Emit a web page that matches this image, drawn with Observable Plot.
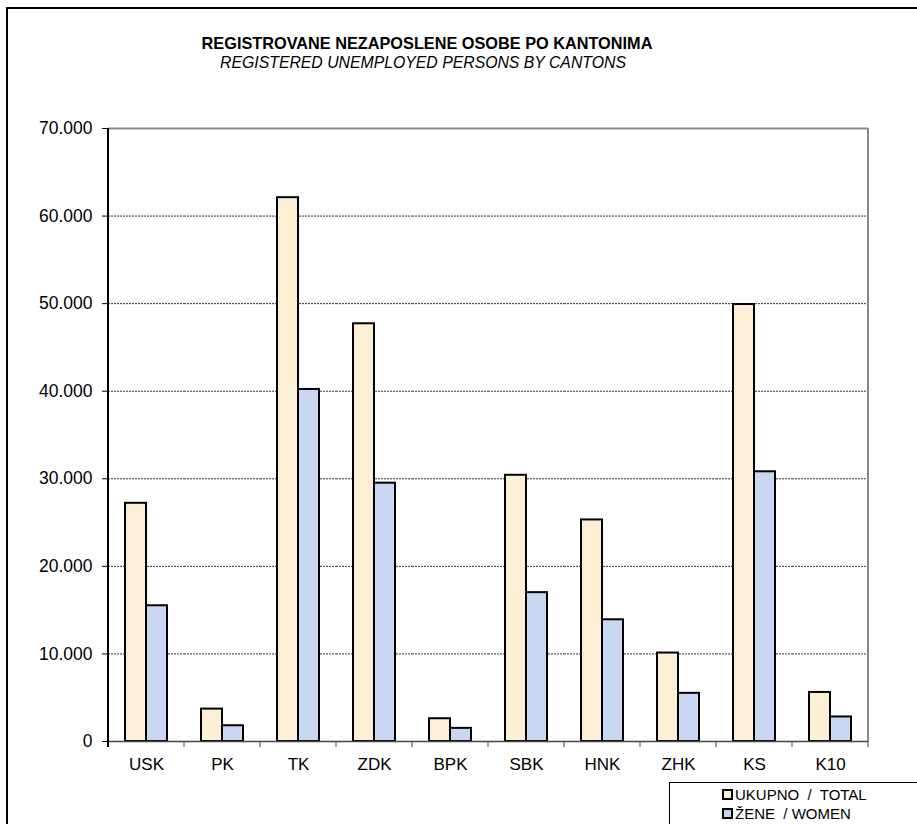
<!DOCTYPE html>
<html>
<head>
<meta charset="utf-8">
<script src="https://cdn.jsdelivr.net/npm/d3@7"></script>
<script src="https://cdn.jsdelivr.net/npm/@observablehq/plot@0.6"></script>
<style>
  html, body { margin: 0; padding: 0; background: #fff; }
  #page { position: relative; width: 917px; height: 824px; overflow: hidden; font-family: "Liberation Sans", Arial, sans-serif; color: #000; }
  #frame { position: absolute; left: 6px; top: 7px; width: 950px; height: 900px; border-left: 2px solid #000; border-top: 2px solid #000; }
  #title { position: absolute; left: 0; top: 34px; width: 854px; text-align: center; font-weight: bold; font-size: 16.3px; line-height: 19px; }
  #subtitle { position: absolute; left: 0; top: 53px; width: 846px; text-align: center; font-style: italic; font-size: 15.8px; line-height: 19px; }
  #chart { position: absolute; left: 0; top: 100px; }
  #legend { position: absolute; left: 669px; top: 782px; width: 300px; height: 100px; border-left: 1px solid #000; border-top: 1px solid #000; background: #fff; }
  .li { position: absolute; left: 52px; font-size: 15px; line-height: 17px; white-space: pre; }
  .sw { display: inline-block; width: 7px; height: 7px; border: 2px solid #000; margin-right: 2px; vertical-align: 0px; }
</style>
</head>
<body>
<div id="page">
  <div id="frame"></div>
  <div id="title"></div>
  <div id="subtitle"></div>
  <div id="chart"></div>
  <div id="legend"></div>
</div>
<script>
const titleText = "REGISTROVANE NEZAPOSLENE OSOBE PO KANTONIMA";
const subtitleText = "REGISTERED UNEMPLOYED PERSONS BY CANTONS";
const cantons = ["USK", "PK", "TK", "ZDK", "BPK", "SBK", "HNK", "ZHK", "KS", "K10"];
const totalValues = [27200, 3700, 62100, 47700, 2600, 30400, 25300, 10100, 49900, 5600];
const womenValues = [15500, 1800, 40200, 29500, 1500, 17000, 13900, 5500, 30800, 2800];
const seriesKeys = ["total", "women"];
const seriesLabels = ["UKUPNO  /  TOTAL", "ŽENE  / WOMEN"];
const seriesColors = ["#FCEFD5", "#CAD7F3"];
const yTicks = [0, 10000, 20000, 30000, 40000, 50000, 60000, 70000];

document.getElementById("title").textContent = titleText;
document.getElementById("subtitle").textContent = subtitleText;

const data = cantons.flatMap((c, i) => [
  {canton: c, series: "total", value: totalValues[i]},
  {canton: c, series: "women", value: womenValues[i]}
]);

const fmt = d3.formatLocale({decimal: ",", thousands: ".", grouping: [3], currency: ["", ""]}).format(",");

const plot = Plot.plot({
  width: 917,
  height: 691,
  marginTop: 28,
  marginLeft: 106,
  marginRight: 48,
  marginBottom: 50,
  style: {fontFamily: "'Liberation Sans', Arial, sans-serif", fontSize: "16px", color: "#000", background: "transparent", overflow: "visible"},
  fx: {domain: cantons, padding: 0, label: null},
  x: {domain: seriesKeys, paddingInner: 0, paddingOuter: 0.736, axis: null},
  y: {domain: [0, 70000], label: null},
  color: {domain: seriesKeys, range: seriesColors},
  marks: [
    Plot.ruleY(yTicks.filter(d => d > 0 && d < 70000), {stroke: "#333", strokeWidth: 1, strokeDasharray: "2,1"}),
    Plot.ruleY([70000], {stroke: "#888", strokeWidth: 2}),
    Plot.barY(data, {fx: "canton", x: "series", y: "value", fill: "series", stroke: "#000", strokeWidth: 2, inset: 0}),
    Plot.ruleY([0], {stroke: "#444", strokeWidth: 1.5}),
    Plot.axisY({ticks: yTicks, tickFormat: fmt, tickSize: 6, tickPadding: 10, fontSize: 17.5, stroke: "#000", label: null}),
    Plot.axisFx({anchor: "bottom", tickSize: 0, tickPadding: 16, fontSize: 17, label: null})
  ]
});

document.getElementById("chart").appendChild(plot);

// axis lines and category boundary ticks, positioned from the plot's own scales
const fxs = plot.scale("fx");
const ys = plot.scale("y");
const svg = d3.select(plot);
const x0 = fxs.apply(cantons[0]);
const x1 = fxs.apply(cantons[cantons.length - 1]) + fxs.bandwidth;
const yTop = ys.apply(70000), yBot = ys.apply(0);
const g = svg.append("g");
cantons.forEach(c => {
  g.append("line").attr("x1", fxs.apply(c)).attr("x2", fxs.apply(c)).attr("y1", yBot).attr("y2", yBot + 6).attr("stroke", "#444").attr("stroke-width", 1);
});
g.append("line").attr("x1", x1).attr("x2", x1).attr("y1", yBot).attr("y2", yBot + 6).attr("stroke", "#444").attr("stroke-width", 1);
g.append("line").attr("x1", x1).attr("x2", x1).attr("y1", yTop).attr("y2", yBot).attr("stroke", "#888").attr("stroke-width", 2);
g.append("line").attr("x1", x0).attr("x2", x0).attr("y1", yTop).attr("y2", yBot + 6).attr("stroke", "#000").attr("stroke-width", 2);

// legend
const legend = document.getElementById("legend");
seriesLabels.forEach((lab, i) => {
  const row = document.createElement("div");
  row.className = "li";
  row.style.top = (3 + i * 19) + "px";
  const sw = document.createElement("span");
  sw.className = "sw";
  sw.style.background = seriesColors[i];
  row.appendChild(sw);
  row.appendChild(document.createTextNode(lab));
  legend.appendChild(row);
});
</script>
</body>
</html>
